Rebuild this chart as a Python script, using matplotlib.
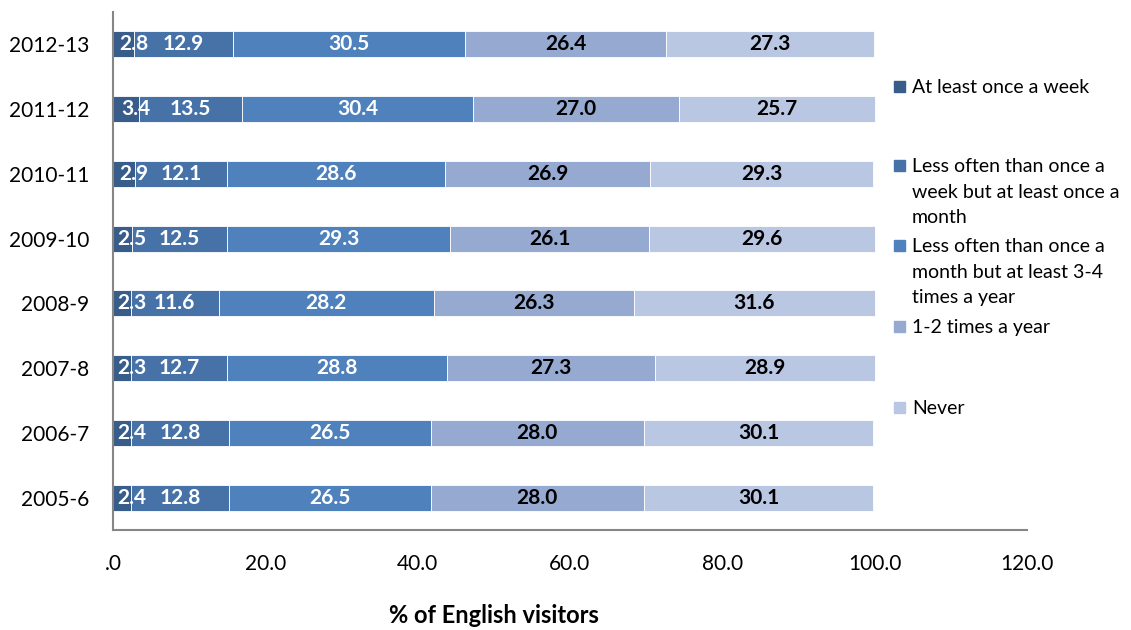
import numpy as np
import matplotlib.pyplot as plt
from matplotlib.patches import Rectangle

plt.rcParams['font.family'] = ['Lato', 'DejaVu Sans']

years = ['2012-13', '2011-12', '2010-11', '2009-10', '2008-9', '2007-8', '2006-7', '2005-6']
series_names = ['At least once a week',
                'Less often than once a\nweek but at least once a\nmonth',
                'Less often than once a\nmonth but at least 3-4\ntimes a year',
                '1-2 times a year',
                'Never']
weekly = [2.8, 3.4, 2.9, 2.5, 2.3, 2.3, 2.4, 2.4]
monthly = [12.9, 13.5, 12.1, 12.5, 11.6, 12.7, 12.8, 12.8]
few_times = [30.5, 30.4, 28.6, 29.3, 28.2, 28.8, 26.5, 26.5]
once_twice = [26.4, 27.0, 26.9, 26.1, 26.3, 27.3, 28.0, 28.0]
never = [27.3, 25.7, 29.3, 29.6, 31.6, 28.9, 30.1, 30.1]

colors = ['#385d8a', '#4672a8', '#4f81bd', '#95a9d1', '#b9c7e2']
text_colors = ['white', 'white', 'white', 'black', 'black']
label_pad = [7, 0, 0, 0, 0]

fig = plt.figure(figsize=(11.31, 6.30), dpi=100)
ax = fig.add_axes([113 / 1131, 1 - 530 / 630, 914 / 1131, 518 / 630])

y = np.arange(len(years))[::-1]
left = np.zeros(len(years))
for vals, col, tcol, pad in zip([weekly, monthly, few_times, once_twice, never],
                                colors, text_colors, label_pad):
    bars = ax.barh(y, vals, left=left, height=0.4, color=col, edgecolor='white', linewidth=0.6)
    ax.bar_label(bars, labels=['%.1f' % v for v in vals], label_type='center',
                 padding=pad, color=tcol, fontsize=15, fontweight='bold')
    left += np.array(vals)

ax.set_xlim(0, 120)
ax.set_ylim(-0.5, len(years) - 0.5)
ax.set_xticks(np.arange(0, 121, 20))
ax.set_xticklabels(['.0', '20.0', '40.0', '60.0', '80.0', '100.0', '120.0'])
ax.set_yticks(y)
ax.set_yticklabels(years)
ax.tick_params(axis='both', length=0, labelsize=15)
ax.tick_params(axis='x', pad=17)
ax.tick_params(axis='y', pad=17)
for s in ['top', 'right']:
    ax.spines[s].set_visible(False)
for s in ['left', 'bottom']:
    ax.spines[s].set_color('#868686')
    ax.spines[s].set_linewidth(1.5)

ax.set_xlabel('% of English visitors', fontsize=17, fontweight='bold')
ax.xaxis.set_label_coords((494 - 113) / 914, -0.143)

# legend drawn by hand so the entries sit where Excel spaces them
legend_y = [87, 166, 246, 327, 408]
for name, col, ly in zip(series_names, colors, legend_y):
    fig.add_artist(Rectangle((894 / 1131, 1 - (ly + 5) / 630), 11 / 1131, 11 / 630,
                             transform=fig.transFigure, color=col))
    fig.text(912 / 1131, 1 - (ly - 8) / 630, name, fontsize=14, va='top',
             linespacing=1.62, transform=fig.transFigure)

fig.savefig('out.png', dpi=100)
